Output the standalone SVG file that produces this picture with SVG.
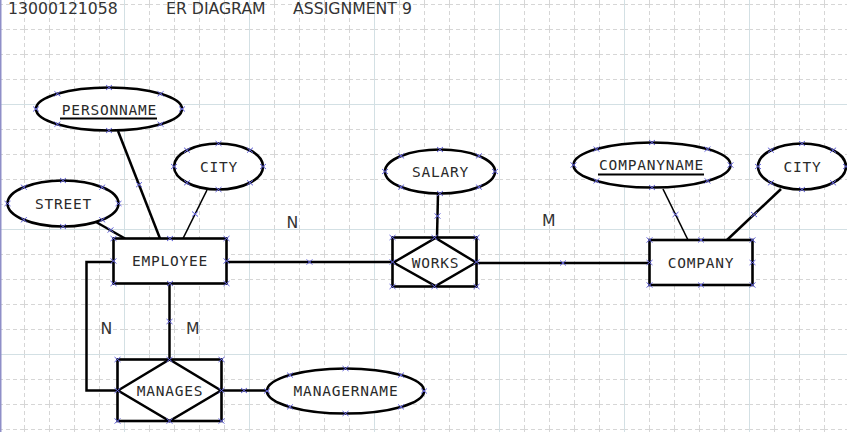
<svg xmlns="http://www.w3.org/2000/svg" xmlns:xlink="http://www.w3.org/1999/xlink" width="847" height="432" viewBox="0 0 847 432">
<defs>
<pattern id="grid" patternUnits="userSpaceOnUse" x="24" y="4" width="25" height="25">
<path d="M0.5 0V25M0 0.5H25" fill="none" stroke="#d6d6d6" stroke-width="1" stroke-dasharray="4 3"/>
</pattern>
<path id="mk" d="M-3-2.5L3 2.5M-3 2.5L3-2.5" fill="none" stroke="#6565dc" stroke-width="1"/>
</defs>
<style>
.shape{fill:#fff;stroke:#000;stroke-width:2.6}
.ln{fill:none;stroke:#000;stroke-width:2.5}
.thin{stroke-width:1.6}
.lbl{font-family:"DejaVu Sans Mono","Liberation Mono",monospace;font-size:14.5px;letter-spacing:0.8px;fill:#2a2a2a;text-anchor:middle}
.hdr{font-family:"DejaVu Sans","Liberation Sans",sans-serif;font-size:15.7px;fill:#333}
.ul{stroke:#000;stroke-width:2}
</style>
<rect width="847" height="432" fill="#fff"/>
<rect width="847" height="432" fill="url(#grid)"/>
<path d="M124.5 0V432M249.5 0V432M374.5 0V432M499.5 0V432M624.5 0V432M749.5 0V432M0 104.5H847M0 229.5H847M0 354.5H847" fill="none" stroke="#d3e0e4" stroke-width="1"/>
<path d="M0.75 0V432" stroke="#8f8fc8" stroke-width="1.5"/>

<g id="title">
<text class="hdr" x="8" y="14">13000121058</text>
<text class="hdr" x="166" y="14">ER DIAGRAM</text>
<text class="hdr" x="293" y="14">ASSIGNMENT 9</text>
</g>

<g id="connectors">
<path class="ln" d="M118 131L160 238.5"/>
<path class="ln thin" d="M207 190L183 238.5"/>
<path class="ln" d="M96 222L125 238.5"/>
<path class="ln" d="M226.5 262H392.5"/>
<path class="ln" d="M438 193.5L437 237.5"/>
<path class="ln" d="M476.5 263H649.5"/>
<path class="ln thin" d="M663 189L688 240"/>
<path class="ln" d="M781 189L727 240"/>
<path class="ln" d="M169.5 283.5V359.5"/>
<path class="ln" d="M113.5 262H86.5V390.5H117.5"/>
<path class="ln" d="M221.5 390.5H267"/>
<text class="hdr" x="286.5" y="228">N</text>
<text class="hdr" x="542" y="226">M</text>
<text class="hdr" x="100.5" y="334">N</text>
<text class="hdr" x="186" y="334">M</text>
<use xlink:href="#mk" x="139" y="184.7"/>
<use xlink:href="#mk" x="195" y="214"/>
<use xlink:href="#mk" x="110.5" y="230"/>
<use xlink:href="#mk" x="309.5" y="262"/>
<use xlink:href="#mk" x="437.5" y="216"/>
<use xlink:href="#mk" x="563" y="263"/>
<use xlink:href="#mk" x="675.5" y="214.5"/>
<use xlink:href="#mk" x="754" y="214.5"/>
<use xlink:href="#mk" x="169.5" y="321.5"/>
<use xlink:href="#mk" x="244" y="390.5"/>
</g>

<g id="personname">
<ellipse class="shape" cx="109" cy="109" rx="73" ry="21.5"/>
<text class="lbl" x="109.5" y="115">PERSONNAME</text>
<path class="ul" d="M60 118.5H157"/>
<use xlink:href="#mk" x="109" y="87.5"/><use xlink:href="#mk" x="109" y="130.5"/>
<use xlink:href="#mk" x="36" y="109"/><use xlink:href="#mk" x="182" y="109"/>
<use xlink:href="#mk" x="57.4" y="93.8"/><use xlink:href="#mk" x="160.6" y="93.8"/>
<use xlink:href="#mk" x="57.4" y="124.2"/><use xlink:href="#mk" x="160.6" y="124.2"/>
</g>

<g id="city-employee">
<ellipse class="shape" cx="218.5" cy="166.5" rx="44.5" ry="23"/>
<text class="lbl" x="219" y="171.5">CITY</text>
<use xlink:href="#mk" x="218.5" y="143.5"/><use xlink:href="#mk" x="218.5" y="189.5"/>
<use xlink:href="#mk" x="174" y="166.5"/><use xlink:href="#mk" x="263" y="166.5"/>
<use xlink:href="#mk" x="187" y="150.2"/><use xlink:href="#mk" x="250" y="150.2"/>
<use xlink:href="#mk" x="187" y="182.8"/><use xlink:href="#mk" x="250" y="182.8"/>
</g>

<g id="street">
<ellipse class="shape" cx="63" cy="203.5" rx="55.5" ry="23"/>
<text class="lbl" x="63.5" y="208.5">STREET</text>
<use xlink:href="#mk" x="63" y="180.5"/><use xlink:href="#mk" x="63" y="226.5"/>
<use xlink:href="#mk" x="7.5" y="203.5"/><use xlink:href="#mk" x="118.5" y="203.5"/>
<use xlink:href="#mk" x="23.8" y="187.2"/><use xlink:href="#mk" x="102.2" y="187.2"/>
<use xlink:href="#mk" x="23.8" y="219.8"/><use xlink:href="#mk" x="102.2" y="219.8"/>
</g>

<g id="employee">
<rect class="shape" x="113.5" y="238.5" width="113" height="45"/>
<text class="lbl" x="170" y="266">EMPLOYEE</text>
<use xlink:href="#mk" x="113.5" y="238.5"/><use xlink:href="#mk" x="170" y="238.5"/><use xlink:href="#mk" x="226.5" y="238.5"/>
<use xlink:href="#mk" x="113.5" y="261"/><use xlink:href="#mk" x="226.5" y="261"/>
<use xlink:href="#mk" x="113.5" y="283.5"/><use xlink:href="#mk" x="170" y="283.5"/><use xlink:href="#mk" x="226.5" y="283.5"/>
</g>

<g id="salary">
<ellipse class="shape" cx="440" cy="171.5" rx="55" ry="22"/>
<text class="lbl" x="440.5" y="176.5">SALARY</text>
<use xlink:href="#mk" x="440" y="149.5"/><use xlink:href="#mk" x="440" y="193.5"/>
<use xlink:href="#mk" x="385" y="171.5"/><use xlink:href="#mk" x="495" y="171.5"/>
<use xlink:href="#mk" x="401.1" y="155.9"/><use xlink:href="#mk" x="478.9" y="155.9"/>
<use xlink:href="#mk" x="401.1" y="187.1"/><use xlink:href="#mk" x="478.9" y="187.1"/>
</g>

<g id="works">
<rect class="shape" x="392.5" y="237.5" width="84" height="49"/>
<path class="ln" d="M393.5 262.5L435.5 238L476 262.5L435.5 286Z"/>
<text class="lbl" x="435.5" y="267.5">WORKS</text>
<use xlink:href="#mk" x="392.5" y="237.5"/><use xlink:href="#mk" x="434.5" y="237.5"/><use xlink:href="#mk" x="476.5" y="237.5"/>
<use xlink:href="#mk" x="392.5" y="262"/><use xlink:href="#mk" x="476.5" y="262"/>
<use xlink:href="#mk" x="392.5" y="286.5"/><use xlink:href="#mk" x="434.5" y="286.5"/><use xlink:href="#mk" x="476.5" y="286.5"/>
</g>

<g id="companyname">
<ellipse class="shape" cx="652" cy="165" rx="78.5" ry="22.5"/>
<text class="lbl" x="651.5" y="170">COMPANYNAME</text>
<path class="ul" d="M598 174.5H704"/>
<use xlink:href="#mk" x="652" y="142.5"/><use xlink:href="#mk" x="652" y="187.5"/>
<use xlink:href="#mk" x="573.5" y="165"/><use xlink:href="#mk" x="730.5" y="165"/>
<use xlink:href="#mk" x="596.5" y="149.1"/><use xlink:href="#mk" x="707.5" y="149.1"/>
<use xlink:href="#mk" x="596.5" y="180.9"/><use xlink:href="#mk" x="707.5" y="180.9"/>
</g>

<g id="city-company">
<ellipse class="shape" cx="802" cy="166.5" rx="44" ry="23"/>
<text class="lbl" x="802.5" y="171.5">CITY</text>
<use xlink:href="#mk" x="802" y="143.5"/><use xlink:href="#mk" x="802" y="189.5"/>
<use xlink:href="#mk" x="758" y="166.5"/><use xlink:href="#mk" x="846" y="166.5"/>
<use xlink:href="#mk" x="770.9" y="150.2"/><use xlink:href="#mk" x="833.1" y="150.2"/>
<use xlink:href="#mk" x="770.9" y="182.8"/><use xlink:href="#mk" x="833.1" y="182.8"/>
</g>

<g id="company">
<rect class="shape" x="649.5" y="240" width="103" height="45"/>
<text class="lbl" x="701" y="267.5">COMPANY</text>
<use xlink:href="#mk" x="649.5" y="240"/><use xlink:href="#mk" x="701" y="240"/><use xlink:href="#mk" x="752.5" y="240"/>
<use xlink:href="#mk" x="649.5" y="262.5"/><use xlink:href="#mk" x="752.5" y="262.5"/>
<use xlink:href="#mk" x="649.5" y="285"/><use xlink:href="#mk" x="701" y="285"/><use xlink:href="#mk" x="752.5" y="285"/>
</g>

<g id="manages">
<rect class="shape" x="117.5" y="359.5" width="104" height="61.5"/>
<path class="ln" d="M118 390.5L169.5 359.5L221 390.5L169.5 421Z"/>
<text class="lbl" x="170" y="396">MANAGES</text>
<use xlink:href="#mk" x="117.5" y="359.5"/><use xlink:href="#mk" x="169.5" y="359.5"/><use xlink:href="#mk" x="221.5" y="359.5"/>
<use xlink:href="#mk" x="117.5" y="390.5"/><use xlink:href="#mk" x="221.5" y="390.5"/>
<use xlink:href="#mk" x="117.5" y="421"/><use xlink:href="#mk" x="169.5" y="421"/><use xlink:href="#mk" x="221.5" y="421"/>
</g>

<g id="managername">
<ellipse class="shape" cx="345.5" cy="391" rx="78.5" ry="22.5"/>
<text class="lbl" x="346" y="396">MANAGERNAME</text>
<use xlink:href="#mk" x="345.5" y="368.5"/><use xlink:href="#mk" x="345.5" y="413.5"/>
<use xlink:href="#mk" x="267" y="391"/><use xlink:href="#mk" x="424" y="391"/>
<use xlink:href="#mk" x="290" y="375.1"/><use xlink:href="#mk" x="401" y="375.1"/>
<use xlink:href="#mk" x="290" y="406.9"/><use xlink:href="#mk" x="401" y="406.9"/>
</g>
</svg>
